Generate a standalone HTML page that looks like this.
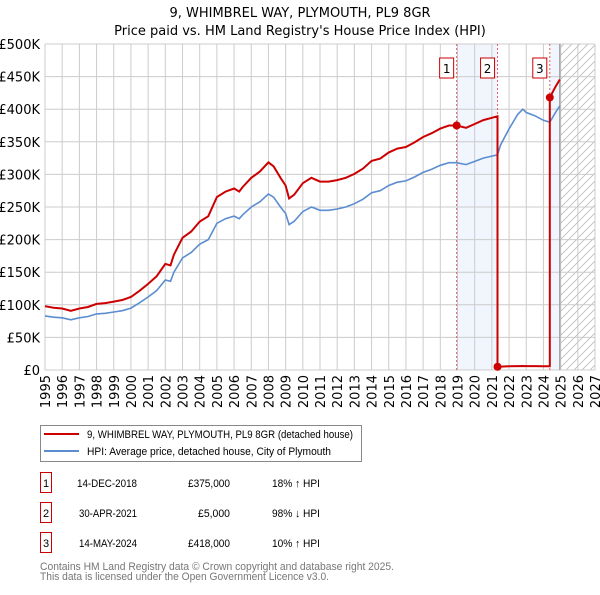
<!DOCTYPE html>
<html><head><meta charset="utf-8"><style>
body{margin:0;background:#fff;font-family:"Liberation Sans","DejaVu Sans",sans-serif;}
svg text{font-family:"DejaVu Sans","Liberation Sans",sans-serif;}
svg text.n{font-family:"Liberation Sans","DejaVu Sans",sans-serif;}
</style></head><body>
<svg id="c" width="600" height="590" xmlns="http://www.w3.org/2000/svg"></svg>
<script>
const hpiYears=[1995,1995.5,1996,1996.5,1997,1997.5,1998,1998.5,1999,1999.5,2000,2000.5,2001,2001.5,2002,2002.3,2002.5,2003,2003.5,2004,2004.5,2005,2005.5,2006,2006.3,2006.5,2007,2007.5,2008,2008.3,2008.7,2009,2009.2,2009.5,2010,2010.5,2011,2011.5,2012,2012.5,2013,2013.5,2014,2014.5,2015,2015.5,2016,2016.5,2017,2017.5,2018,2018.5,2018.95,2019.5,2020,2020.5,2021,2021.33,2021.5,2022,2022.5,2022.8,2023,2023.5,2024,2024.37,2024.7,2024.95];
const hpiValues=[83,81,80,77,80,82,86,87,89,91,95,103,112,122,138,136,150,172,180,193,200,225,232,236,232,238,250,258,270,265,250,240,223,228,243,250,245,245,247,250,255,262,272,275,283,288,290,296,303,308,314,318,318,315,320,325,328,330,345,370,392,400,395,390,383,380,395,405];
const saleYears=[2018.95,2021.33,2024.37];
const salePrices=[375,5,418];
const saleLabels=["1","2","3"];
const yTicks=[0,50,100,150,200,250,300,350,400,450,500];
const xTicks=[1995,1996,1997,1998,1999,2000,2001,2002,2003,2004,2005,2006,2007,2008,2009,2010,2011,2012,2013,2014,2015,2016,2017,2018,2019,2020,2021,2022,2023,2024,2025,2026,2027];
const tableDates=["14-DEC-2018","30-APR-2021","14-MAY-2024"];
const tablePrices=["£375,000","£5,000","£418,000"];
const tableHpi=["18% ↑ HPI","98% ↓ HPI","10% ↑ HPI"];

const L=45,R=595,T=44,B=370;
const X=y=>L+(y-1995)/(2027-1995)*(R-L);
const Y=v=>B-v/500*(B-T);
const S=document.getElementById('c');
const NS='http://www.w3.org/2000/svg';
function mk(tag,attrs,parent){const e=document.createElementNS(NS,tag);for(const k in attrs)e.setAttribute(k,attrs[k]);(parent||S).appendChild(e);return e;}
function hpiAt(y){for(let i=0;i<hpiYears.length-1;i++){if(y>=hpiYears[i]&&y<=hpiYears[i+1]){const t=(y-hpiYears[i])/(hpiYears[i+1]-hpiYears[i]);return hpiValues[i]+t*(hpiValues[i+1]-hpiValues[i]);}}return hpiValues[hpiValues.length-1];}
function fit(el,len){el.setAttribute('textLength',len);el.setAttribute('lengthAdjust','spacingAndGlyphs');}

let t=mk('text',{x:300,y:17,'text-anchor':'middle','font-size':13,fill:'#000'});t.textContent='9, WHIMBREL WAY, PLYMOUTH, PL9 8GR';


t=mk('text',{x:300,y:35,'text-anchor':'middle','font-size':13,fill:'#000'});t.textContent="Price paid vs. HM Land Registry's House Price Index (HPI)";



let r=mk('rect',{x:X(saleYears[0]),y:T,width:X(saleYears[1])-X(saleYears[0]),height:B-T,fill:'#f1f5fd'});


r=mk('rect',{x:X(saleYears[2]),y:T,width:X(2024.95)-X(saleYears[2]),height:B-T,fill:'#f1f5fd'});


const defs=mk('defs',{});
const pat=mk('pattern',{id:'h',patternUnits:'userSpaceOnUse',width:8,height:8},defs);
mk('path',{d:'M0,8 L8,0 M-2,2 L2,-2 M6,10 L10,6',stroke:'#bbb','stroke-width':0.8},pat);
r=mk('rect',{x:X(2024.95),y:T,width:R-X(2024.95),height:B-T,fill:'url(#h)'});



yTicks.forEach(v=>{
 let l=mk('line',{x1:L,x2:R,y1:Y(v),y2:Y(v),stroke:'#ccc','stroke-width':1});
 
 
 let tx=mk('text',{x:L-5,y:Y(v)+5,'text-anchor':'end','font-size':13,fill:'#000'});
 tx.textContent=v===0?'£0':'£'+v+'K';
 
 
});
xTicks.forEach(y=>{
 let l=mk('line',{x1:X(y),x2:X(y),y1:T,y2:B,stroke:'#ccc','stroke-width':1});
 
 
 let tx=mk('text',{x:0,y:0,'text-anchor':'end','font-size':13,fill:'#000',transform:`translate(${X(y)+5},${B+5}) rotate(-90)`});
 tx.textContent=y;
 
 
});
let vl=mk('line',{x1:X(2024.95),x2:X(2024.95),y1:T,y2:B,stroke:'#999','stroke-width':1.2});



saleYears.forEach((y,i)=>{
 let l=mk('line',{x1:X(y),x2:X(y),y1:T,y2:B,stroke:'#e06060','stroke-width':1,'stroke-dasharray':'2,2'});
 
 
 let bx=mk('rect',{x:X(y)-17,y:58,width:14,height:20,fill:'#fff',stroke:'#c00','stroke-width':1});
 
 
 let tx=mk('text',{x:X(y)-10,y:73,'text-anchor':'middle','font-size':12,fill:'#000'});
 tx.textContent=saleLabels[i];
 
 
});

let d='';
hpiYears.forEach((y,i)=>{d+=(i?'L':'M')+X(y).toFixed(1)+','+Y(hpiValues[i]).toFixed(1);});
let hp=mk('path',{d,fill:'none',stroke:'#5b8dd0','stroke-width':1.6});



let rd='';
function seg(from,to,price,saleY,first){
 const ratio=price/hpiAt(saleY);
 const pts=[from].concat(hpiYears.filter(y=>y>from&&y<to)).concat([to]);
 pts.forEach((y,i)=>{rd+=((first&&i===0)?'M':'L')+X(y).toFixed(1)+','+Y(hpiAt(y)*ratio).toFixed(1);});
}
seg(1995,saleYears[1],salePrices[0],saleYears[0],true);
seg(saleYears[1],saleYears[2],salePrices[1],saleYears[1],false);
seg(saleYears[2],2024.95,salePrices[2],saleYears[2],false);
let rp=mk('path',{d:rd,fill:'none',stroke:'#cc0000','stroke-width':2});


saleYears.forEach((y,i)=>{
 let c=mk('circle',{cx:X(y),cy:Y(salePrices[i]),r:4,fill:'#cc0000'});
 
 
});

const lg=mk('g',{});


mk('rect',{x:40.5,y:425.5,width:321,height:36,fill:'#fff',stroke:'#888'},lg);
mk('line',{x1:44,x2:79,y1:434,y2:434,stroke:'#cc0000','stroke-width':2},lg);
mk('line',{x1:44,x2:79,y1:451,y2:451,stroke:'#5b8dd0','stroke-width':2},lg);
t=mk('text',{x:87,y:438,'font-size':11,fill:'#000','class':'n'},lg);t.textContent='9, WHIMBREL WAY, PLYMOUTH, PL9 8GR (detached house)';fit(t,266);


t=mk('text',{x:87,y:455,'font-size':11,fill:'#000','class':'n'},lg);t.textContent='HPI: Average price, detached house, City of Plymouth';fit(t,244);



const dateLens=[60,58,58],priceLens=[42,32,42];
saleLabels.forEach((lab,i)=>{
 const y=483+i*30;
 let b=mk('rect',{x:40.5,y:y-10.5,width:11,height:20,fill:'#fff',stroke:'#c00'});
 
 
 let a=mk('text',{x:46,y:y+4,'text-anchor':'middle','font-size':11,'class':'n'});a.textContent=lab;
 
 
 a=mk('text',{x:137-dateLens[i],y:y+4,'font-size':11,'class':'n'});a.textContent=tableDates[i];fit(a,dateLens[i]);
 
 
 a=mk('text',{x:230-priceLens[i],y:y+4,'font-size':11,'class':'n'});a.textContent=tablePrices[i];fit(a,priceLens[i]);
 
 
 a=mk('text',{x:272,y:y+4,'font-size':11,'class':'n'});a.textContent=tableHpi[i];fit(a,48);
 
 
});
t=mk('text',{x:40,y:570,'font-size':11,fill:'#777','class':'n'});t.textContent='Contains HM Land Registry data © Crown copyright and database right 2025.';fit(t,354);


t=mk('text',{x:40,y:580,'font-size':11,fill:'#777','class':'n'});t.textContent='This data is licensed under the Open Government Licence v3.0.';fit(t,289);


</script>
</body></html>
